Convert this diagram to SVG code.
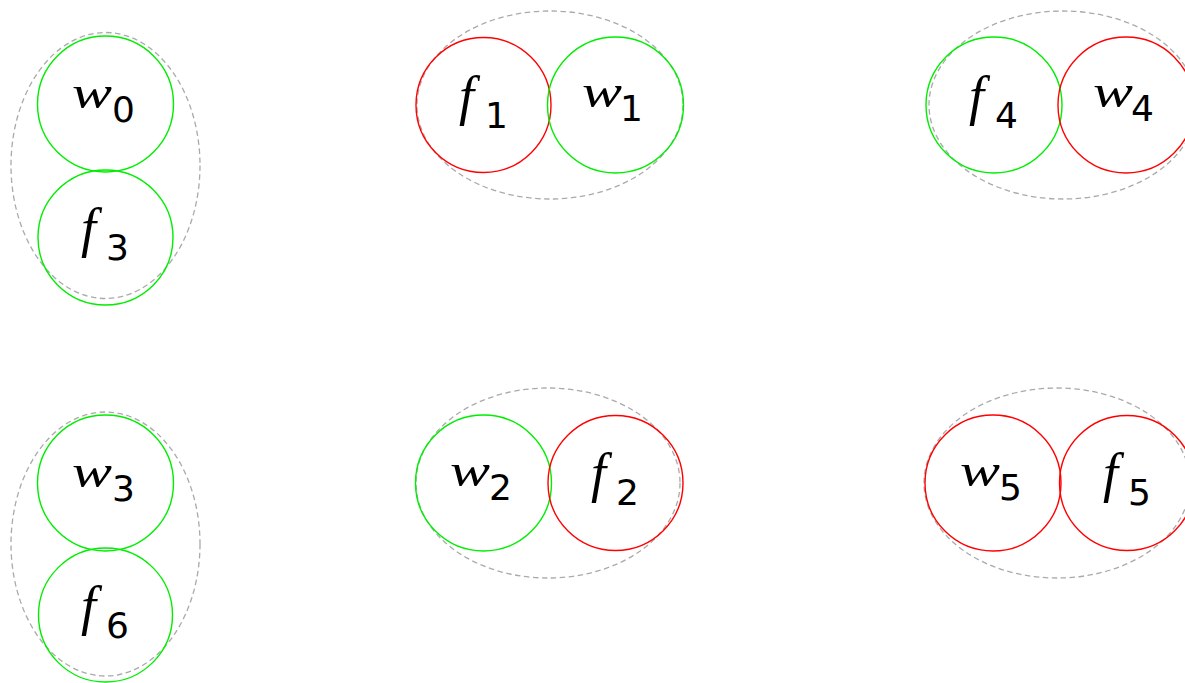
<svg xmlns="http://www.w3.org/2000/svg" width="1185" height="683" viewBox="0 0 1185 683">
<style>
.grp{fill:none;stroke:#aaaaaa;stroke-width:1.3;stroke-dasharray:5.5 3.5}
.g{fill:none;stroke:#00ee00;stroke-width:1.4}
.r{fill:none;stroke:#ff0000;stroke-width:1.4}
.lbl{font-family:"Liberation Serif","Times New Roman",serif;font-style:italic;font-size:46px;fill:#000}
.fl{font-size:54px}
.sub{font-family:"DejaVu Sans",sans-serif;font-style:normal;font-size:36px}
</style>
<rect width="1185" height="683" fill="#fff"/>
<g id="groups">
<ellipse class="grp" cx="105.5" cy="165.5" rx="94.5" ry="133"/>
<ellipse class="grp" cx="550" cy="105" rx="133" ry="94"/>
<ellipse class="grp" cx="1063" cy="105" rx="134" ry="94"/>
<ellipse class="grp" cx="105.5" cy="544" rx="94.5" ry="132"/>
<ellipse class="grp" cx="548" cy="483" rx="132" ry="95"/>
<ellipse class="grp" cx="1057" cy="483" rx="133" ry="95"/>
</g>
<g id="connectors"></g>
<g id="w0"><circle class="g" cx="105.5" cy="104" r="68"/><text class="lbl" y="108"><tspan x="72" textLength="40" lengthAdjust="spacingAndGlyphs">w</tspan><tspan class="sub" x="112" dy="14">0</tspan></text></g>
<g id="f3"><circle class="g" cx="105.5" cy="237.5" r="67.5"/><text class="lbl" y="246"><tspan class="fl" x="81">f</tspan><tspan class="sub" x="106" dy="14">3</tspan></text></g>
<g id="f1"><circle class="r" cx="483.5" cy="105" r="67.5"/><text class="lbl" y="114"><tspan class="fl" x="459">f</tspan><tspan class="sub" x="485" dy="14">1</tspan></text></g>
<g id="w1"><circle class="g" cx="615.5" cy="105" r="68"/><text class="lbl" y="107"><tspan x="582" textLength="40" lengthAdjust="spacingAndGlyphs">w</tspan><tspan class="sub" x="620" dy="14">1</tspan></text></g>
<g id="f4"><circle class="g" cx="994" cy="105" r="68"/><text class="lbl" y="114"><tspan class="fl" x="969">f</tspan><tspan class="sub" x="995" dy="14">4</tspan></text></g>
<g id="w4"><circle class="r" cx="1126" cy="105" r="68"/><text class="lbl" y="107"><tspan x="1093" textLength="40" lengthAdjust="spacingAndGlyphs">w</tspan><tspan class="sub" x="1131" dy="14">4</tspan></text></g>
<g id="w3"><circle class="g" cx="105.5" cy="483" r="68"/><text class="lbl" y="487"><tspan x="72" textLength="40" lengthAdjust="spacingAndGlyphs">w</tspan><tspan class="sub" x="112" dy="14">3</tspan></text></g>
<g id="f6"><circle class="g" cx="105.5" cy="615" r="67"/><text class="lbl" y="624"><tspan class="fl" x="81">f</tspan><tspan class="sub" x="106" dy="14">6</tspan></text></g>
<g id="w2"><circle class="g" cx="483.5" cy="483" r="68"/><text class="lbl" y="486"><tspan x="450" textLength="40" lengthAdjust="spacingAndGlyphs">w</tspan><tspan class="sub" x="489" dy="14">2</tspan></text></g>
<g id="f2"><circle class="r" cx="615.5" cy="483" r="67.5"/><text class="lbl" y="491"><tspan class="fl" x="591">f</tspan><tspan class="sub" x="616" dy="14">2</tspan></text></g>
<g id="w5"><circle class="r" cx="993" cy="483" r="68"/><text class="lbl" y="486"><tspan x="960" textLength="40" lengthAdjust="spacingAndGlyphs">w</tspan><tspan class="sub" x="999" dy="14">5</tspan></text></g>
<g id="f5"><circle class="r" cx="1127" cy="483" r="67.5"/><text class="lbl" y="491"><tspan class="fl" x="1103">f</tspan><tspan class="sub" x="1128" dy="14">5</tspan></text></g>
</svg>
